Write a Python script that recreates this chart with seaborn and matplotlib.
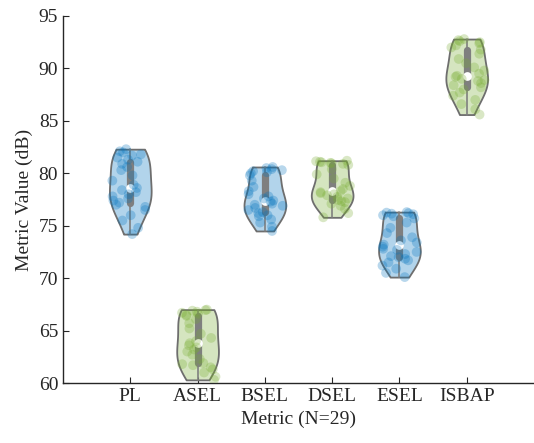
import numpy as np
import pandas as pd
import matplotlib
matplotlib.use("Agg")
import matplotlib.pyplot as plt
from matplotlib.collections import PolyCollection
from matplotlib.colors import to_rgba
import seaborn as sns

sns.set_style("ticks")
plt.rcParams["font.family"] = ["Liberation Serif", "DejaVu Serif"]
plt.rcParams["font.size"] = 14

# Metric names (x categories)
metrics = ["PL", "ASEL", "BSEL", "DSEL", "ESEL", "ISBAP"]

# values (29 per metric, dB)
pl = [74.2, 74.8, 75.5, 76.0, 76.5, 76.8, 77.0, 77.2, 77.4, 77.6, 77.8, 78.0, 78.2, 78.4, 78.6,
      78.9, 79.3, 79.8, 80.3, 80.6, 80.9, 81.1, 81.3, 81.5, 81.7, 81.8, 82.0, 82.1, 82.3]
asel = [60.3, 60.6, 61.0, 61.3, 61.5, 61.7, 61.8, 61.9, 62.3, 62.7, 63.0, 63.2, 63.4, 63.6, 63.8,
        64.0, 64.3, 64.7, 65.2, 65.7, 66.1, 66.4, 66.5, 66.6, 66.7, 66.8, 66.9, 66.95, 67.0]
bsel = [74.5, 74.9, 75.3, 75.6, 75.9, 76.0, 76.2, 76.3, 76.5, 76.7, 76.9, 77.0, 77.1, 77.3, 77.4,
        77.6, 77.8, 78.0, 78.3, 78.7, 79.3, 79.8, 80.0, 80.1, 80.2, 80.3, 80.4, 80.5, 80.6]
dsel = [75.8, 76.2, 76.6, 76.9, 77.1, 77.25, 77.35, 77.45, 77.6, 77.75, 77.9, 78.0, 78.1, 78.2, 78.3,
        78.5, 78.8, 79.1, 79.5, 79.9, 80.4, 80.8, 80.9, 80.95, 81.0, 81.05, 81.1, 81.15, 81.2]
esel = [70.1, 70.5, 70.9, 71.2, 71.5, 71.7, 71.85, 72.0, 72.1, 72.3, 72.5, 72.7, 72.8, 73.0, 73.2,
        73.4, 73.6, 73.9, 74.3, 74.8, 75.3, 75.7, 75.9, 76.0, 76.1, 76.15, 76.2, 76.25, 76.3]
isbap = [85.6, 86.1, 86.6, 87.0, 87.4, 87.7, 88.0, 88.2, 88.4, 88.6, 88.8, 88.9, 89.0, 89.2, 89.3,
         89.5, 89.8, 90.1, 90.5, 90.9, 91.4, 91.8, 92.0, 92.2, 92.4, 92.5, 92.6, 92.7, 92.8]

blue = "#0072BD"
green = "#77AC30"
colors = {"PL": blue, "ASEL": green, "BSEL": blue, "DSEL": green, "ESEL": blue, "ISBAP": green}

df = pd.DataFrame({
    "Metric": np.repeat(metrics, 29),
    "Value": pl + asel + bsel + dsel + esel + isbap,
})

fig = plt.figure(figsize=(5.34, 4.43), dpi=100)
ax = fig.add_axes([0.118, 0.1354, 0.882, 0.8285])

np.random.seed(3)
sns.stripplot(data=df, x="Metric", y="Value", hue="Metric", palette=colors, order=metrics,
              jitter=0.28, size=7, alpha=0.28, linewidth=0, legend=False, ax=ax)

n_before = len(ax.collections)
sns.violinplot(data=df, x="Metric", y="Value", hue="Metric", palette=colors, order=metrics,
               cut=0, density_norm="width", width=0.62, bw_adjust=1.3, saturation=1,
               linecolor="#6e6e6e", linewidth=1.3, inner="box",
               inner_kws=dict(box_width=5.2, whis_width=1.2, color="#7f7f7f", marker="o",
                              markersize=6.3, markeredgewidth=0),
               legend=False, ax=ax)

# semi-transparent violin fill
for coll, m in zip([c for c in ax.collections[n_before:] if isinstance(c, PolyCollection)], metrics):
    coll.set_facecolor(to_rgba(colors[m], 0.3))
    coll.set_edgecolor("#6e6e6e")

ax.set_xlim(-1, 6)
ax.set_ylim(60, 95)
ax.set_yticks(np.arange(60, 96, 5))
ax.set_xlabel("Metric (N=29)", color="#262626")
ax.set_ylabel("Metric Value (dB)", color="#262626")
ax.tick_params(direction="in", length=4, color="#262626", labelcolor="#262626")
for s in ["left", "bottom"]:
    ax.spines[s].set_color("#262626")
    ax.spines[s].set_linewidth(1.0)
sns.despine(ax=ax)

fig.savefig("out.png", dpi=100)
